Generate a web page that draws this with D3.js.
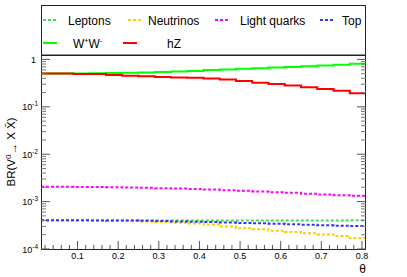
<!DOCTYPE html>
<html><head><meta charset="utf-8">
<script src="https://cdn.jsdelivr.net/npm/d3@7"></script>
<style>
body{margin:0;background:#fff;}
svg{display:block;}
text{font-family:"Liberation Sans",Arial,Helvetica,sans-serif;fill:#000;}
</style>
</head><body>
<svg id="c" width="407" height="277"></svg>
<script>
// ---- data ----
const binEdges = [0.01,0.05,0.09,0.13,0.17,0.21,0.25,0.29,0.33,0.37,0.41,0.45,0.49,0.53,0.57,0.61,0.65,0.69,0.73,0.77,0.81];
const leptons    = [0.000402,0.000402,0.000402,0.000402,0.000401,0.000401,0.0004,0.0004,0.0004,0.000399,0.000399,0.000399,0.000399,0.0004,0.0004,0.0004,0.0004,0.000401,0.000401,0.000402];
const neutrinos  = [0.000402,0.000402,0.000402,0.000402,0.000401,0.000392,0.000382,0.00037,0.000358,0.000345,0.00033,0.000298,0.000275,0.000262,0.000244,0.000229,0.000214,0.000203,0.000188,0.000171];
const lightQuarks= [0.00206,0.00205,0.00204,0.00203,0.00201,0.00198,0.00195,0.00192,0.00188,0.00184,0.00179,0.00174,0.00169,0.00164,0.00158,0.00153,0.00147,0.00142,0.00137,0.00133];
const topQuark   = [0.000402,0.000402,0.000402,0.000401,0.0004,0.000397,0.000393,0.000388,0.000382,0.000376,0.00037,0.000362,0.000355,0.000348,0.00034,0.000333,0.000326,0.000318,0.000311,0.000305];
const ww         = [0.505,0.505,0.507,0.51,0.515,0.522,0.532,0.543,0.556,0.57,0.598,0.615,0.633,0.652,0.672,0.695,0.72,0.745,0.775,0.81];
const hz         = [0.505,0.505,0.492,0.492,0.469,0.453,0.439,0.427,0.418,0.41,0.398,0.378,0.35,0.322,0.302,0.283,0.258,0.238,0.219,0.193];
const xTicks = [0.1,0.2,0.3,0.4,0.5,0.6,0.7,0.8];
const xTickLabels = ["0.1","0.2","0.3","0.4","0.5","0.6","0.7","0.8"];
const yDecades = [1e-4,1e-3,1e-2,1e-1,1];
const yExponents = ["-4","-3","-2","-1",""];
const legendRow1 = ["Leptons","Neutrinos","Light quarks","Top"];
const xDomain = [0.01,0.81];
const yDomain = [1e-4,1.24];

// ---- layout ----
const L=41, R=366, T=55, B=249;
const svg = d3.select("#c");
const x = d3.scaleLinear().domain(xDomain).range([L,R]);
const y = d3.scaleLog().domain(yDomain).range([B,T]);

function stepPts(vals){
  const p=[];
  vals.forEach((v,i)=>{p.push([binEdges[i],v]);p.push([binEdges[i+1],v]);});
  return p;
}
const line = d3.line().x(d=>x(d[0])).y(d=>y(d[1]));

const series = [
  {vals:leptons, color:"#44dd44", dash:"3,2", w:2},
  {vals:neutrinos, color:"#ffcc00", dash:"3,2", w:2},
  {vals:lightQuarks, color:"#ff00ff", dash:"3,2", w:2},
  {vals:topQuark, color:"#3333ff", dash:"3,2", w:2},
  {vals:ww, color:"#00ff00", dash:null, w:2},
  {vals:hz, color:"#ff0000", dash:null, w:2}
];

const plot = svg.append("g");
series.forEach(s=>{
  plot.append("path").attr("d",line(stepPts(s.vals)))
    .attr("fill","none").attr("stroke",s.color).attr("stroke-width",s.w)
    .attr("stroke-dasharray",s.dash);
});

// frame
const ax = svg.append("g").attr("stroke","#222").attr("fill","none");
ax.append("rect").attr("x",L+0.5).attr("y",T+0.5).attr("width",R-L-1).attr("height",B-T).attr("stroke-width",1);

// x ticks
const xMinor = d3.range(1,41).map(i=>+(i*0.02).toFixed(2)).filter(v=>v>=xDomain[0]&&v<=xDomain[1]);
xMinor.forEach(v=>{
  const major = xTicks.some(t=>Math.abs(t-v)<1e-6);
  const len = major?8:4;
  ax.append("line").attr("x1",x(v)).attr("x2",x(v)).attr("y1",B).attr("y2",B-len).attr("stroke","#555");
});
svg.append("g").selectAll("text").data(xTicks).join("text")
  .attr("x",d=>x(d)).attr("y",B+10).attr("text-anchor","middle")
  .attr("font-size",9).text((d,i)=>xTickLabels[i]);

// y ticks (both sides)
yDecades.forEach((d,i)=>{
  [[L,1],[R,-1]].forEach(([x0,dir])=>{
    ax.append("line").attr("x1",x0).attr("x2",x0+dir*9).attr("y1",y(d)).attr("y2",y(d)).attr("stroke","#555");
  });
  for(let m=2;m<=9;m++){
    const v=d*m; if(v>yDomain[1]) break;
    [[L,1],[R,-1]].forEach(([x0,dir])=>{
      ax.append("line").attr("x1",x0).attr("x2",x0+dir*5).attr("y1",y(v)).attr("y2",y(v)).attr("stroke","#777");
    });
  }
});
const yl = svg.append("g");
yDecades.forEach((d,i)=>{
  if(yExponents[i]===""){
    yl.append("text").attr("x",36).attr("y",y(d)+3.5).attr("text-anchor","end").attr("font-size",9).text("1");
  } else {
    const t = yl.append("text").attr("x",38).attr("y",y(d)+3.5).attr("text-anchor","end").attr("font-size",9);
    t.append("tspan").text("10");
    t.append("tspan").attr("font-size",6.5).attr("dy",-4).text(yExponents[i]);
  }
});

// axis titles
svg.append("text").attr("x",366).attr("y",273).attr("text-anchor","end")
  .attr("font-family","'Liberation Serif','DejaVu Serif',serif").attr("font-size",12).text("θ");
const yt = svg.append("text").attr("transform","translate(15,152) rotate(-90)")
  .attr("text-anchor","middle").attr("font-size",11.5);
yt.append("tspan").text("BR(V");
yt.append("tspan").attr("font-size",8).attr("dy",-4).text("0");
yt.append("tspan").attr("dy",6).text("→");
yt.append("tspan").attr("dy",-2).text(" X X\u0304)");

// legend
const lg = svg.append("g");
lg.append("rect").attr("x",L+0.5).attr("y",5.5).attr("width",R-L-1).attr("height",49.5)
  .attr("fill","#fff").attr("stroke","#222");
const row1Sample = [43,128,215,320];
const row1Text = [68,148,240,342];
legendRow1.forEach((lab,i)=>{
  const s=series[i];
  lg.append("line").attr("x1",row1Sample[i]).attr("x2",row1Sample[i]+14).attr("y1",20).attr("y2",20)
    .attr("stroke",s.color).attr("stroke-width",2).attr("stroke-dasharray",s.dash);
  lg.append("text").attr("x",row1Text[i]).attr("y",24.5).attr("font-size",12).text(lab);
});
lg.append("line").attr("x1",43).attr("x2",57).attr("y1",43).attr("y2",43).attr("stroke",series[4].color).attr("stroke-width",2);
const wt = lg.append("text").attr("x",73).attr("y",48).attr("font-size",12);
wt.append("tspan").text("W");
wt.append("tspan").attr("font-size",7).attr("dy",-5).text("+");
wt.append("tspan").attr("dy",5).text("W");
wt.append("tspan").attr("font-size",7).attr("dy",-5).text("-");
lg.append("line").attr("x1",123).attr("x2",137).attr("y1",43).attr("y2",43).attr("stroke",series[5].color).attr("stroke-width",2);
lg.append("text").attr("x",167).attr("y",48).attr("font-size",12).text("hZ");
</script>
</body></html>
